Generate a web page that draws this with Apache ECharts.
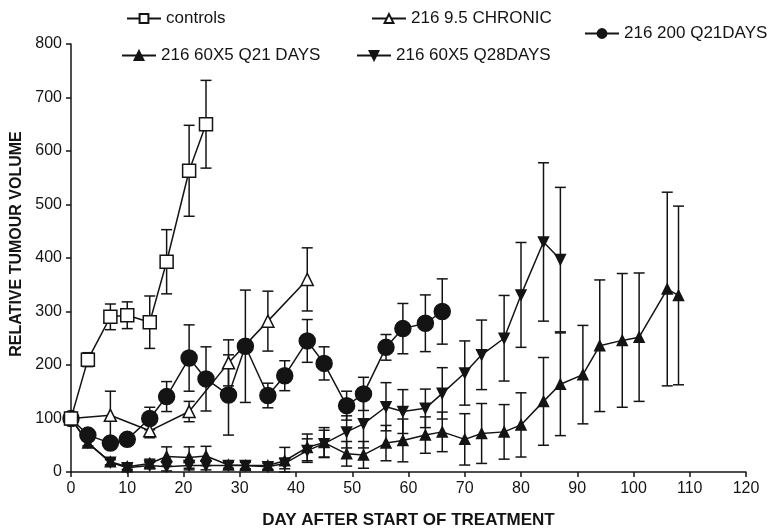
<!DOCTYPE html>
<html>
<head>
<meta charset="utf-8">
<script src="https://cdn.jsdelivr.net/npm/echarts@6/dist/echarts.min.js"></script>
<style>
  html, body { margin: 0; padding: 0; background: #fff; }
  #chart { width: 769px; height: 529px; }
</style>
</head>
<body>
<div id="chart"></div>
<script>
// Relative tumour volume (mean ± error) by day after start of treatment

const xTicks = [0, 10, 20, 30, 40, 50, 60, 70, 80, 90, 100, 110, 120];
const yTicks = [0, 100, 200, 300, 400, 500, 600, 700, 800];

// controls
const ctrlDays = [0, 3, 7, 10, 14, 17, 21, 24];
const ctrlMean = [100, 210, 290, 293, 280, 393, 563, 650];
const ctrlErr  = [0, 13, 24, 25, 49, 60, 85, 82];

// 216 9.5 CHRONIC
const chronDays = [0, 7, 14, 21, 28, 35, 42];
const chronMean = [100, 106, 77, 113, 204, 282, 360];
const chronErr  = [0, 45, 13, 19, 43, 56, 59];

// 216 200 Q21DAYS
const q200Days = [0, 3, 7, 10, 14, 17, 21, 24, 28, 31, 35, 38, 42, 45, 49, 52, 56, 59, 63, 66];
const q200Mean = [100, 69, 54, 61, 100, 141, 213, 174, 144, 235, 143, 180, 245, 203, 124, 146, 233, 268, 278, 300];
const q200Err  = [0, 8, 10, 10, 21, 28, 62, 60, 75, 105, 23, 28, 40, 31, 27, 31, 24, 47, 53, 61];

// 216 60X5 Q21 DAYS
const q21Days = [0, 3, 7, 10, 14, 17, 21, 24, 28, 31, 35, 38, 42, 45, 49, 52, 56, 59, 63, 66, 70, 73, 77, 80, 84, 87, 91, 94, 98, 101, 106, 108];
const q21Mean = [100, 54, 19, 10, 16, 29, 27, 30, 13, 12, 12, 21, 46, 55, 34, 32, 54, 59, 69, 75, 61, 72, 75, 88, 132, 164, 182, 236, 246, 252, 342, 330];
const q21Err  = [0, 8, 6, 5, 8, 18, 20, 18, 6, 7, 7, 25, 25, 28, 23, 25, 33, 40, 34, 37, 48, 56, 51, 60, 82, 96, 92, 123, 125, 120, 181, 167];

// 216 60X5 Q28DAYS
const q28Days = [0, 3, 7, 10, 14, 17, 21, 24, 28, 31, 35, 38, 42, 45, 49, 52, 56, 59, 63, 66, 70, 73, 77, 80, 84, 87];
const q28Mean = [100, 55, 18, 8, 12, 10, 12, 12, 12, 12, 10, 16, 40, 53, 75, 90, 122, 113, 119, 147, 185, 219, 250, 331, 430, 397];
const q28Err  = [0, 6, 5, 4, 6, 8, 8, 8, 6, 6, 6, 10, 22, 25, 30, 45, 45, 41, 36, 48, 60, 65, 80, 98, 148, 135];

const INK = '#141414';
const FONT = 'Liberation Sans, Arial, sans-serif';

function pairs(days, vals) {
  return days.map((d, i) => [d, vals[i]]);
}

// Vertical error bar with caps, drawn through the axis scales
function errorBars(name, days, mean, err) {
  const data = days
    .map((d, i) => [d, Math.max(0, mean[i] - err[i]), mean[i] + err[i], err[i]])
    .filter(r => r[3] > 0);
  return {
    name: name + ' err',
    type: 'custom',
    silent: true,
    z: 1,
    data: data,
    encode: { x: 0, y: [1, 2] },
    renderItem: function (params, api) {
      const x = api.value(0);
      const top = api.coord([x, api.value(2)]);
      const bot = api.coord([x, api.value(1)]);
      const cap = 5.5;
      const st = { stroke: INK, lineWidth: 1.5, fill: null };
      return {
        type: 'group',
        children: [
          { type: 'line', shape: { x1: top[0], y1: top[1], x2: bot[0], y2: bot[1] }, style: st },
          { type: 'line', shape: { x1: top[0] - cap, y1: top[1], x2: top[0] + cap, y2: top[1] }, style: st },
          { type: 'line', shape: { x1: bot[0] - cap, y1: bot[1], x2: bot[0] + cap, y2: bot[1] }, style: st }
        ]
      };
    }
  };
}

function lineSeries(name, days, mean, symbol, size, filled, rotate) {
  return {
    name: name,
    type: 'line',
    z: 3,
    data: pairs(days, mean),
    symbol: symbol,
    symbolSize: size,
    symbolRotate: rotate || 0,
    showAllSymbol: true,
    lineStyle: { color: INK, width: 1.5 },
    itemStyle: { color: filled ? INK : '#fff', borderColor: INK, borderWidth: 1.5 },
    emphasis: { disabled: true },
    animation: false
  };
}

const names = ['controls', '216 9.5 CHRONIC', '216 200 Q21DAYS', '216 60X5 Q21 DAYS', '216 60X5 Q28DAYS'];

function legendAt(name, left, top) {
  return {
    data: [name],
    left: left,
    top: top,
    padding: 0,
    itemWidth: 34,
    itemHeight: 11,
    selectedMode: false,
    textStyle: { fontFamily: FONT, fontSize: 17, color: INK }
  };
}

const chart = echarts.init(document.getElementById('chart'), null, { renderer: 'canvas' });

chart.setOption({
  animation: false,
  backgroundColor: '#fff',
  grid: { left: 71, right: 23, top: 44, bottom: 57, containLabel: false, outerBoundsMode: 'none' },
  legend: [
    legendAt(names[0], 126, 10),
    legendAt(names[1], 371, 10),
    legendAt(names[2], 584, 25),
    legendAt(names[3], 121, 47),
    legendAt(names[4], 356, 47)
  ],
  xAxis: {
    type: 'value',
    min: xTicks[0],
    max: xTicks[xTicks.length - 1],
    interval: 10,
    name: 'DAY AFTER START OF TREATMENT',
    nameLocation: 'middle',
    nameGap: 40,
    nameTextStyle: { fontFamily: FONT, fontSize: 17, fontWeight: 'bold', color: INK },
    axisLine: { lineStyle: { color: INK, width: 1.5 } },
    axisTick: { length: 5, lineStyle: { color: INK, width: 1.5 } },
    axisLabel: { fontFamily: FONT, fontSize: 16, color: INK, margin: 9 },
    splitLine: { show: false }
  },
  yAxis: {
    type: 'value',
    min: yTicks[0],
    max: yTicks[yTicks.length - 1],
    interval: 100,
    name: 'RELATIVE TUMOUR VOLUME',
    nameLocation: 'middle',
    nameGap: 45,
    nameTextStyle: { fontFamily: FONT, fontSize: 16, fontWeight: 'bold', color: INK, padding: [0, 0, 0, 28] },
    axisLine: { show: true, lineStyle: { color: INK, width: 1.5 } },
    axisTick: { show: true, length: 5, lineStyle: { color: INK, width: 1.5 } },
    axisLabel: { fontFamily: FONT, fontSize: 16, color: INK, margin: 9 },
    splitLine: { show: false }
  },
  series: [
    errorBars(names[3], q21Days, q21Mean, q21Err),
    errorBars(names[4], q28Days, q28Mean, q28Err),
    errorBars(names[2], q200Days, q200Mean, q200Err),
    errorBars(names[1], chronDays, chronMean, chronErr),
    errorBars(names[0], ctrlDays, ctrlMean, ctrlErr),
    lineSeries(names[3], q21Days, q21Mean, 'triangle', 10, true),
    lineSeries(names[4], q28Days, q28Mean, 'triangle', 10, true, 180),
    lineSeries(names[2], q200Days, q200Mean, 'circle', 16, true),
    lineSeries(names[1], chronDays, chronMean, 'triangle', 12, false),
    lineSeries(names[0], ctrlDays, ctrlMean, 'rect', 13, false)
  ]
});
</script>
</body>
</html>
